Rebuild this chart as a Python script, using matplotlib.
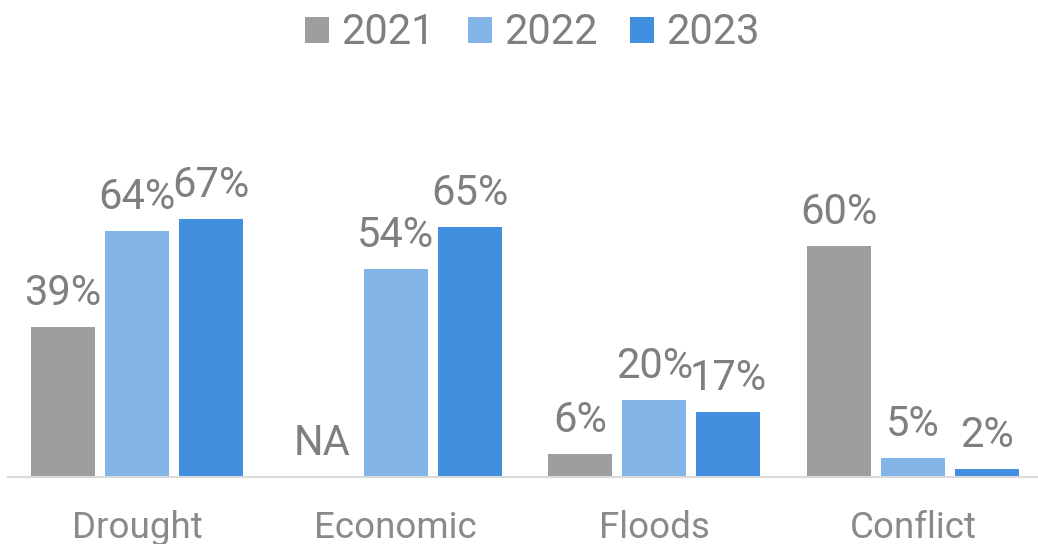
import matplotlib
matplotlib.use("Agg")
import matplotlib.pyplot as plt
import matplotlib.transforms as mtransforms
import numpy as np

plt.rcParams['font.family'] = ['Roboto', 'DejaVu Sans']

categories = ["Drought", "Economic", "Floods", "Conflict"]
years = ["2021", "2022", "2023"]
values_2021 = [39, None, 6, 60]
values_2022 = [64, 54, 20, 5]
values_2023 = [67, 65, 17, 2]
series = [values_2021, values_2022, values_2023]
colors = ["#9E9E9E", "#82B4E8", "#418FDE"]
label_color = "#7F7F7F"
tick_color = "#8A8A8A"

W, H = 1038, 544
fig = plt.figure(figsize=(W / 100, H / 100), dpi=100)
ax = fig.add_axes([7.7 / W, 67 / H, 1034.7 / W, 385 / H])

x = np.arange(len(categories))
bar_w = 0.2474
step = 0.286

for i, (vals, year, col) in enumerate(zip(series, years, colors)):
    pos = x + (i - 1) * step
    heights = [v if v is not None else 0 for v in vals]
    ax.bar(pos, heights, width=bar_w, color=col, label=year, zorder=2)
    for xp, v in zip(pos, vals):
        txt = f"{v}%" if v is not None else "NA"
        h = v if v is not None else 0
        ax.annotate(txt, (xp, h), xytext=(0, 22 * 0.72), textcoords="offset points",
                    ha="center", va="baseline", fontsize=30, color=label_color)

ax.set_xlim(-0.5, len(categories) - 0.5)
ax.set_ylim(0, 100)
for s in ["top", "right", "left"]:
    ax.spines[s].set_visible(False)
ax.spines["bottom"].set_color("#D9D9D9")
ax.spines["bottom"].set_linewidth(1.5)
ax.spines["bottom"].set_zorder(3)
ax.set_yticks([])
ax.set_xticks([])

tick_trans = mtransforms.offset_copy(ax.get_xaxis_transform(), fig=fig, x=0, y=-61 * 0.72, units="points")
for xp, cat in zip(x, categories):
    ax.text(xp, 0, cat, transform=tick_trans, ha="center", va="baseline",
            fontsize=26.5, color=tick_color)

leg = fig.legend(loc="center", bbox_to_anchor=(532.5 / W, 1 - 33 / H), ncol=3, frameon=False,
                 fontsize=30, handlelength=0.575, handleheight=0.575, handletextpad=0.29,
                 columnspacing=0.79, borderpad=0, borderaxespad=0)
for t in leg.get_texts():
    t.set_color(label_color)

fig.savefig("out.png", dpi=100)
